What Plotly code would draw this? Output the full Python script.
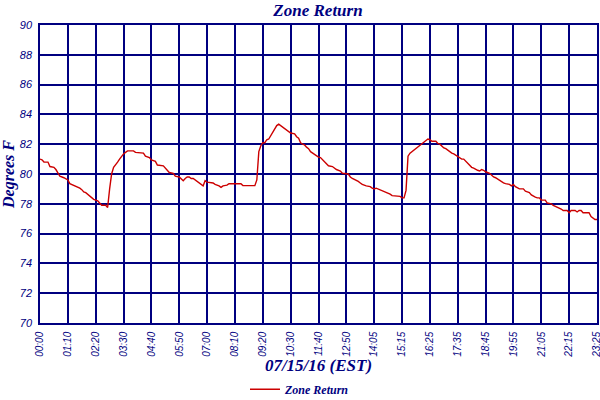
import plotly.graph_objects as go

# readings taken off the trend log (time of day, deg F)
times = [
    '00:00', '00:05', '00:10', '00:20', '00:25', '00:35', '00:40', '00:45', '00:50', '01:00',
    '01:10', '01:15', '01:25', '01:30', '01:35', '01:40', '01:45', '01:50', '01:55', '02:05',
    '02:10', '02:15', '02:25', '02:30', '02:35', '02:45', '02:50', '02:55', '03:00', '03:05',
    '03:10', '03:15', '03:20', '03:25', '03:30', '03:35', '03:40', '03:55', '04:00', '04:20',
    '04:25', '04:35', '04:40', '04:50', '04:55', '05:10', '05:15', '05:20', '05:25', '05:35',
    '05:40', '05:50', '05:55', '06:00', '06:05', '06:10', '06:15', '06:20', '06:25', '06:30',
    '06:35', '06:40', '06:45', '06:50', '06:55', '07:00', '07:15', '07:20', '07:30', '07:35',
    '07:40', '07:50', '07:55', '08:25', '08:30', '09:00', '09:05', '09:10', '09:15', '09:20',
    '09:25', '09:30', '09:35', '09:40', '09:45', '09:50', '09:55', '10:00', '10:05', '10:10',
    '10:15', '10:20', '10:25', '10:30', '10:40', '10:45', '10:50', '10:55', '11:00', '11:05',
    '11:10', '11:15', '11:20', '11:25', '11:30', '11:35', '11:40', '11:45', '11:50', '11:55',
    '12:00', '12:05', '12:15', '12:20', '12:25', '12:35', '12:40', '12:55', '13:00', '13:05',
    '13:10', '13:15', '13:20', '13:25', '13:30', '13:45', '13:55', '14:00', '14:05', '14:10',
    '14:15', '14:20', '14:30', '14:35', '14:45', '14:50', '15:10', '15:15', '15:20', '15:25',
    '15:30', '15:35', '15:40', '15:45', '15:50', '15:55', '16:00', '16:05', '16:10', '16:15',
    '16:20', '16:25', '16:30', '16:40', '16:45', '16:50', '16:55', '17:00', '17:05', '17:10',
    '17:15', '17:20', '17:25', '17:30', '17:35', '17:40', '17:45', '17:50', '17:55', '18:00',
    '18:05', '18:10', '18:15', '18:20', '18:25', '18:30', '18:35', '18:40', '18:45', '18:55',
    '19:00', '19:05', '19:10', '19:15', '19:20', '19:25', '19:30', '19:35', '19:45', '19:50',
    '19:55', '20:00', '20:05', '20:10', '20:20', '20:25', '20:30', '20:35', '20:40', '20:45',
    '20:50', '20:55', '21:00', '21:05', '21:15', '21:20', '21:30', '21:35', '21:40', '21:45',
    '21:55', '22:00', '22:10', '22:15', '22:20', '22:30', '22:35', '22:40', '22:45', '22:50',
    '23:05', '23:10', '23:15', '23:20', '23:25',
]
zone_return = [
    81.0, 80.95, 80.8, 80.8, 80.5, 80.45, 80.3, 80.1, 79.85, 79.75,
    79.6, 79.35, 79.25, 79.2, 79.15, 79.05, 78.95, 78.8, 78.75, 78.55,
    78.45, 78.3, 78.2, 78.05, 77.9, 77.9, 77.75, 79.0, 80.0, 80.45,
    80.6, 80.8, 81.0, 81.2, 81.35, 81.45, 81.55, 81.55, 81.45, 81.4,
    81.2, 81.1, 80.95, 80.85, 80.6, 80.55, 80.4, 80.3, 80.1, 80.05,
    79.85, 79.8, 79.65, 79.55, 79.7, 79.8, 79.8, 79.7, 79.7, 79.6,
    79.55, 79.4, 79.3, 79.2, 79.55, 79.45, 79.4, 79.3, 79.2, 79.1,
    79.2, 79.25, 79.35, 79.35, 79.22, 79.22, 79.6, 81.5, 81.9, 82.1,
    82.1, 82.3, 82.35, 82.6, 82.8, 83.0, 83.25, 83.35, 83.25, 83.15,
    83.05, 83.0, 82.85, 82.75, 82.7, 82.5, 82.4, 82.1, 82.0, 81.95,
    81.8, 81.7, 81.5, 81.4, 81.3, 81.2, 81.13, 81.1, 80.95, 80.8,
    80.65, 80.55, 80.5, 80.4, 80.3, 80.2, 80.05, 80.0, 79.8, 79.7,
    79.65, 79.55, 79.5, 79.4, 79.3, 79.2, 79.15, 79.05, 79.0, 79.05,
    79.0, 78.9, 78.85, 78.75, 78.65, 78.55, 78.5, 78.4, 78.4, 78.9,
    81.2, 81.4, 81.5, 81.65, 81.75, 81.85, 81.95, 82.0, 82.15, 82.2,
    82.35, 82.3, 82.2, 82.2, 82.05, 82.0, 81.85, 81.75, 81.7, 81.6,
    81.45, 81.4, 81.35, 81.25, 81.15, 81.1, 81.0, 81.0, 80.85, 80.75,
    80.55, 80.45, 80.4, 80.3, 80.25, 80.2, 80.3, 80.25, 80.15, 80.05,
    79.9, 79.8, 79.75, 79.65, 79.6, 79.5, 79.4, 79.35, 79.3, 79.2,
    79.3, 79.15, 79.05, 79.0, 79.0, 78.85, 78.8, 78.75, 78.6, 78.5,
    78.45, 78.4, 78.4, 78.25, 78.25, 78.05, 78.0, 77.9, 77.85, 77.75,
    77.65, 77.55, 77.55, 77.4, 77.55, 77.55, 77.45, 77.55, 77.55, 77.4,
    77.4, 77.15, 77.05, 76.95, 76.95,
]

# the log has one 5-minute slot missing in the afternoon
skipped_slot = '13:35'
last_slot = '23:25'
slots = []
for m in range(0, 24 * 60, 5):
    t = f'{m // 60:02d}:{m % 60:02d}'
    if t == skipped_slot:
        continue
    slots.append(t)
    if t == last_slot:
        break
tick_labels = slots[::14]

navy = '#000080'

fig = go.Figure()
fig.add_trace(go.Scatter(
    x=times,
    y=zone_return,
    mode='lines',
    line=dict(color='#cc0000', width=1.4),
    name='Zone Return',
))

fig.update_layout(
    width=600,
    height=400,
    margin=dict(l=40, r=3, t=25, b=77),
    paper_bgcolor='white',
    plot_bgcolor='white',
    title=dict(
        text='Zone Return',
        x=0.53, xanchor='center',
        y=0.975, yanchor='middle',
        font=dict(family='Liberation Serif', size=17, color=navy,
                  style='italic', weight='bold'),
    ),
    showlegend=True,
    legend=dict(
        orientation='h',
        xref='container', yref='container',
        x=0.5, xanchor='center',
        y=0.027, yanchor='middle',
        font=dict(family='Liberation Serif', size=12, color=navy,
                  style='italic', weight='bold'),
        itemwidth=30,
    ),
)

fig.update_xaxes(
    type='category',
    categoryorder='array',
    categoryarray=slots,
    range=[0, len(slots) - 1],
    tickvals=tick_labels,
    ticktext=tick_labels,
    tickangle=-90,
    tickfont=dict(family='Liberation Sans', size=10, color=navy, style='italic'),
    ticklabelstandoff=3,
    showgrid=True,
    gridcolor=navy,
    gridwidth=1.5,
    showline=True,
    linecolor=navy,
    linewidth=1.5,
    mirror=True,
    ticks='',
    automargin=False,
    title=dict(text='07/15/16 (EST)', standoff=6,
               font=dict(family='Liberation Serif', size=17, color=navy,
                         style='italic', weight='bold')),
)

fig.update_yaxes(
    range=[70, 90],
    dtick=2,
    tickfont=dict(family='Liberation Sans', size=11, color=navy, style='italic'),
    ticklabelstandoff=4,
    showgrid=True,
    gridcolor=navy,
    gridwidth=1.5,
    showline=True,
    linecolor=navy,
    linewidth=1.5,
    mirror=True,
    ticks='',
    zeroline=False,
    automargin=False,
    title=dict(text='Degrees F', standoff=1,
               font=dict(family='Liberation Serif', size=16, color=navy,
                         style='italic', weight='bold')),
)

# the page body has a default 8px margin; drop it so the figure sits at the corner
fig.write_html('out.html', config={'displayModeBar': False},
               post_script="document.body.style.margin='0';")
